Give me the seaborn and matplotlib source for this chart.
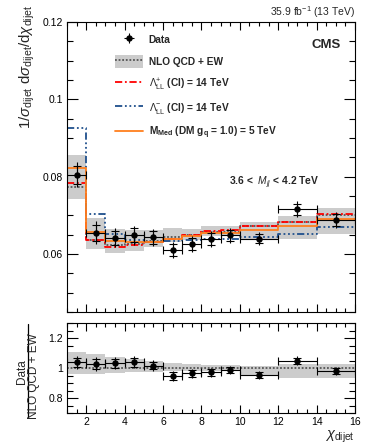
import numpy as np
import pandas as pd
from matplotlib import pyplot as plt
from matplotlib.patches import Patch
from matplotlib.lines import Line2D
from matplotlib.ticker import MultipleLocator, FixedLocator
import seaborn as sns

sns.set_style("ticks")
plt.rcParams['font.family'] = ['Liberation Sans', 'DejaVu Sans']
plt.rcParams['mathtext.fontset'] = 'custom'
plt.rcParams['mathtext.rm'] = 'Liberation Sans'
plt.rcParams['mathtext.it'] = 'Liberation Sans:italic'
plt.rcParams['mathtext.bf'] = 'Liberation Sans:bold'

# chi_dijet bins
edges = [1, 2, 3, 4, 5, 6, 7, 8, 9, 10, 12, 14, 16]

# normalized distributions
data_vals = [0.0805, 0.0655, 0.0642, 0.0649, 0.0643, 0.0610, 0.0626, 0.0639, 0.0649, 0.0640, 0.0716, 0.0688]
nlo_vals = [0.0774, 0.0636, 0.0622, 0.0625, 0.0633, 0.0644, 0.0649, 0.0658, 0.0658, 0.0673, 0.0683, 0.0702]
ci_plus = [0.0783, 0.0635, 0.0619, 0.0622, 0.0630, 0.0638, 0.0650, 0.0659, 0.0662, 0.0673, 0.0684, 0.0704]
ci_minus = [0.0925, 0.0703, 0.0651, 0.0636, 0.0632, 0.0634, 0.0635, 0.0638, 0.0638, 0.0643, 0.0651, 0.0669]
dm_med = [0.0822, 0.0658, 0.0634, 0.0630, 0.0632, 0.0639, 0.0647, 0.0654, 0.0655, 0.0662, 0.0673, 0.0691]

# ratio panel
ratio_vals = [1.038, 1.027, 1.031, 1.038, 1.016, 0.947, 0.964, 0.971, 0.987, 0.951, 1.049, 0.980]
band_hi = [1.105, 1.090, 1.070, 1.060, 1.045, 1.035, 1.025, 1.022, 1.020, 1.016, 1.024, 1.025]
band_lo = [0.958, 0.963, 0.968, 0.972, 0.975, 0.978, 0.980, 0.982, 0.982, 0.950, 0.936, 0.930]

# relative data uncertainties (stat, total)
err_stat = [0.029, 0.031, 0.028, 0.028, 0.025, 0.025, 0.025, 0.024, 0.022, 0.020, 0.020, 0.022]
err_tot = [0.040, 0.045, 0.038, 0.038, 0.035, 0.033, 0.033, 0.032, 0.030, 0.028, 0.030, 0.030]

edges_a = np.array(edges, dtype=float)
centers = 0.5 * (edges_a[1:] + edges_a[:-1])
halfw = 0.5 * (edges_a[1:] - edges_a[:-1])

def ext(v):
    return list(v) + [v[-1]]

RED = '#ff0000'
BLUE = '#1f4f8c'
ORANGE = '#ff7f1e'
GREY = '#cccccc'
LS_RED = (0, (4, 1.5, 1, 1.5))
LS_BLUE = (0, (4, 1.5, 1, 1.5, 1, 1.5, 1, 1.5))
LS_NLO = (0, (1, 1))

fig = plt.figure(figsize=(3.74, 4.47), dpi=100)
ax1 = fig.add_axes([67/374, 1-312/447, 288/374, 290/447])
ax2 = fig.add_axes([67/374, 1-413/447, 288/374, 90/447])

# ---- top panel
nlo_a = np.array(nlo_vals)
ax1.fill_between(edges_a, ext(nlo_a*np.array(band_lo)), ext(nlo_a*np.array(band_hi)),
                 step='post', color=GREY, lw=0)
steps = pd.DataFrame({'chi': edges, 'nlo': ext(nlo_vals), 'cip': ext(ci_plus),
                      'cim': ext(ci_minus), 'dm': ext(dm_med)})
sns.lineplot(data=steps, x='chi', y='nlo', ax=ax1, drawstyle='steps-post',
             color='#555555', lw=1.3, linestyle=LS_NLO)
sns.lineplot(data=steps, x='chi', y='cip', ax=ax1, drawstyle='steps-post',
             color=RED, lw=1.3, linestyle=LS_RED)
sns.lineplot(data=steps, x='chi', y='cim', ax=ax1, drawstyle='steps-post',
             color=BLUE, lw=1.3, linestyle=LS_BLUE)
sns.lineplot(data=steps, x='chi', y='dm', ax=ax1, drawstyle='steps-post',
             color=ORANGE, lw=1.3)

d = np.array(data_vals)
ax1.errorbar(centers, d, yerr=d*np.array(err_tot), fmt='none', ecolor='k', elinewidth=0.8)
ax1.errorbar(centers, d, xerr=halfw, yerr=d*np.array(err_stat), fmt='o', color='k',
             ms=3.6, elinewidth=0.8, capsize=3.2, capthick=0.8)

ax1.set_xlim(1, 16)
ax1.set_ylim(0.045, 0.12)
ax1.set_xlabel('')
ax1.set_ylabel('')
ax1.yaxis.set_major_locator(FixedLocator([0.06, 0.08, 0.1, 0.12]))
ax1.yaxis.set_minor_locator(MultipleLocator(0.005))
ax1.set_yticklabels(['0.06', '0.08', '0.1', '0.12'])
ax1.xaxis.set_major_locator(MultipleLocator(2))
ax1.xaxis.set_minor_locator(MultipleLocator(0.5))
ax1.tick_params(axis='x', labelbottom=False)

# legend
h_data = ax1.errorbar([], [], xerr=[], yerr=[], fmt='o', color='k', ms=3.6, elinewidth=0.8)
h_nlo = (Patch(facecolor=GREY, edgecolor='none'),
         Line2D([], [], color='#555555', lw=1.3, linestyle=LS_NLO))
h_cip = Line2D([], [], color=RED, lw=1.3, linestyle=LS_RED)
h_cim = Line2D([], [], color=BLUE, lw=1.3, linestyle=LS_BLUE)
h_dm = Line2D([], [], color=ORANGE, lw=1.3)
labels = ['Data', 'NLO QCD + EW',
          r'$\Lambda_{\rm LL}^{+}$ (CI) = 14 TeV',
          r'$\Lambda_{\rm LL}^{-}$ (CI) = 14 TeV',
          r'M$_{\mathbf{Med}}$ (DM g$_{\mathbf{q}}$ = 1.0) = 5 TeV']
leg = ax1.legend([h_data, h_nlo, h_cip, h_cim, h_dm], labels, loc='upper left',
                 bbox_to_anchor=(0.168, 0.962), frameon=False,
                 handlelength=2.7, handleheight=1.6, handletextpad=0.6,
                 labelspacing=0.85, borderaxespad=0, borderpad=0,
                 prop={'weight': 'bold', 'size': 7.3})

ax1.text(0.95, 0.94, 'CMS', transform=ax1.transAxes, ha='right', va='top',
         fontsize=9.5, fontweight='bold')
ax1.text(0.875, 0.445, r'3.6 <  $M_{jj}$ < 4.2 TeV', transform=ax1.transAxes,
         ha='right', va='center', fontsize=7.4, fontweight='bold')
fig.text(355/374, 1-12/447, r'35.9 fb$^{-1}$ (13 TeV)', ha='right', va='center', fontsize=7.5)
fig.text(27/374, 1-5/447, r'1/$\sigma_{\rm dijet}$ d$\sigma_{\rm dijet}$/d$\chi_{\rm dijet}$',
         rotation=90, ha='center', va='top', fontsize=10.8)

# ---- ratio panel
ax2.fill_between(edges_a, ext(band_lo), ext(band_hi), step='post', color=GREY, lw=0)
ax2.axhline(1.0, color='#555555', lw=1.3, linestyle=LS_NLO)
r = np.array(ratio_vals)
ax2.errorbar(centers, r, yerr=r*np.array(err_tot), fmt='none', ecolor='k', elinewidth=0.8)
ax2.errorbar(centers, r, xerr=halfw, yerr=r*np.array(err_stat), fmt='o', color='k',
             ms=3.6, elinewidth=0.8, capsize=3.2, capthick=0.8)
ax2.set_xlim(1, 16)
ax2.set_ylim(0.7, 1.3)
ax2.yaxis.set_major_locator(FixedLocator([0.8, 1.0, 1.2]))
ax2.set_yticklabels(['0.8', '1', '1.2'])
ax2.yaxis.set_minor_locator(MultipleLocator(0.05))
ax2.xaxis.set_major_locator(MultipleLocator(2))
ax2.xaxis.set_minor_locator(MultipleLocator(0.5))
ax2.set_xlabel('')
ax2.set_ylabel('')

# ratio y title drawn as a fraction
fig.text(22/374, 1-372/447, 'Data', rotation=90, ha='center', va='center', fontsize=8.5)
fig.add_artist(Line2D([27.8/374, 27.8/374], [1-417/447, 1-324/447], color='k', lw=0.9,
                      transform=fig.transFigure))
fig.text(33.5/374, 1-376/447, 'NLO QCD + EW', rotation=90, ha='center', va='center', fontsize=8.5)
fig.text(355/374, 1-437/447, r'$\chi_{\rm dijet}$', ha='right', va='center', fontsize=10.5)

for ax in (ax1, ax2):
    for s in ax.spines.values():
        s.set_linewidth(0.8)
        s.set_color('k')
    ax.tick_params(which='both', direction='in', top=True, right=True, width=0.8,
                   labelsize=7.5, colors='k', pad=3)
    ax.tick_params(axis='y', which='major', length=8)
    ax.tick_params(axis='y', which='minor', length=4)
    ax.tick_params(axis='x', which='major', length=5.5)
    ax.tick_params(axis='x', which='minor', length=3)
    ax.set_facecolor('white')

fig.savefig('out.png', dpi=100)
